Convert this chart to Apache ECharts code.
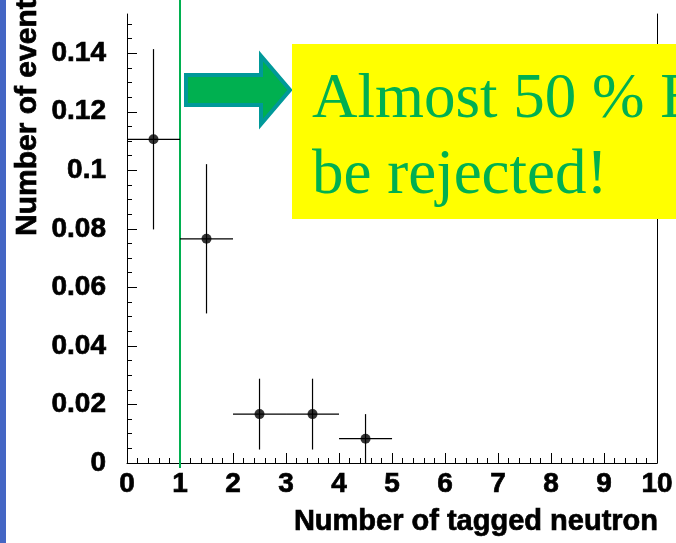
<!DOCTYPE html>
<html>
<head>
<meta charset="utf-8">
<script src="https://cdn.jsdelivr.net/npm/echarts@6/dist/echarts.min.js"></script>
<style>
  html, body { margin: 0; padding: 0; background: #ffffff; }
  #chart { width: 676px; height: 543px; }
</style>
</head>
<body>
<div id="chart"></div>
<script>
// Tagged-neutron multiplicity: bin centres, half bin widths, fractions and errors
const binCenters = [0.5, 1.5, 2.5, 3.5, 4.5];
const binHalfWidths = [0.5, 0.5, 0.5, 0.5, 0.5];
const eventFractions = [0.1106, 0.0766, 0.0167, 0.0167, 0.0083];
const eventErrors = [0.0308, 0.0255, 0.0121, 0.0121, 0.0084];

// Axis ticks
const xTickValues = [0, 1, 2, 3, 4, 5, 6, 7, 8, 9, 10];
const yTickValues = [0, 0.02, 0.04, 0.06, 0.08, 0.1, 0.12, 0.14];
const yMax = 0.1534;

// Selection cut on the number of tagged neutrons
const cutValue = [1];

const labelFont = 'Liberation Sans, Arial, Helvetica, sans-serif';
const noteFont = '"Liberation Serif", "Times New Roman", serif';
const noteGreen = '#00B050';

const pointData = binCenters.map((x, i) => [x, eventFractions[i]]);
const errorData = binCenters.map((x, i) => [x, eventFractions[i], binHalfWidths[i], eventErrors[i]]);

// heavier bold glyphs for the axis text
const boldText = { color: '#000', fontFamily: labelFont, fontWeight: 'bold', fontSize: 28,
                   textBorderColor: '#000', textBorderWidth: 0.7 };

const chart = echarts.init(document.getElementById('chart'), null, { renderer: 'canvas' });

chart.setOption({
  animation: false,
  backgroundColor: '#ffffff',
  grid: { left: 127, right: 16, top: 14, bottom: 80, containLabel: false },
  xAxis: {
    type: 'value',
    min: 0,
    max: 10,
    interval: 1,
    axisLine: { show: true, onZero: false, lineStyle: { color: '#000', width: 1 } },
    axisTick: { show: true, inside: true, length: 10, lineStyle: { color: '#000', width: 1 } },
    minorTick: { show: true, splitNumber: 5, length: 5, lineStyle: { color: '#000', width: 1 } },
    splitLine: { show: false },
    axisLabel: Object.assign({
      show: true,
      margin: 7,
      customValues: xTickValues
    }, boldText)
  },
  yAxis: [
    {
      type: 'value',
      min: 0,
      max: yMax,
      interval: 0.02,
      axisLine: { show: true, onZero: false, lineStyle: { color: '#000', width: 1 } },
      axisTick: { show: true, inside: true, length: 10, customValues: yTickValues, lineStyle: { color: '#000', width: 1 } },
      minorTick: { show: true, splitNumber: 4, length: 5, lineStyle: { color: '#000', width: 1 } },
      splitLine: { show: false },
      axisLabel: Object.assign({
        show: true,
        margin: 21,
        padding: [10, 0, 0, 0],
        customValues: yTickValues,
        formatter: v => String(+v.toFixed(3))
      }, boldText)
    },
    {
      type: 'value',
      position: 'right',
      min: 0,
      max: yMax,
      axisLine: { show: true, onZero: false, lineStyle: { color: '#000', width: 1 } },
      axisTick: { show: false },
      axisLabel: { show: false },
      splitLine: { show: false }
    }
  ],
  series: [
    {
      // vertical line marking the cut at one tagged neutron
      type: 'custom',
      name: 'cut',
      data: cutValue.map(v => [v]),
      clip: false,
      z: 3,
      renderItem: (params, api) => {
        const base = api.coord([api.value(0), 0]);
        return {
          type: 'line',
          shape: { x1: base[0], y1: 0, x2: base[0], y2: base[1] + 5 },
          style: { stroke: noteGreen, lineWidth: 2 }
        };
      }
    },
    {
      // bin-width and statistical error bars
      type: 'custom',
      name: 'errors',
      data: errorData,
      clip: false,
      z: 4,
      renderItem: (params, api) => {
        const x = api.value(0), y = api.value(1), ex = api.value(2), ey = api.value(3);
        const left = api.coord([x - ex, y]);
        const right = api.coord([x + ex, y]);
        const top = api.coord([x, y + ey]);
        const bottom = api.coord([x, Math.max(y - ey, 0)]);
        return {
          type: 'group',
          children: [
            { type: 'line', shape: { x1: left[0], y1: left[1], x2: right[0], y2: right[1] },
              style: { stroke: '#000', lineWidth: 1.2 } },
            { type: 'line', shape: { x1: top[0], y1: top[1], x2: bottom[0], y2: bottom[1] },
              style: { stroke: '#000', lineWidth: 1.2 } }
          ]
        };
      }
    },
    {
      type: 'scatter',
      name: 'events',
      data: pointData,
      symbol: 'circle',
      symbolSize: 10,
      itemStyle: { color: '#000' },
      z: 5
    }
  ],
  graphic: [
    {
      type: 'rect',
      shape: { x: 0, y: 0, width: 6, height: 543 },
      style: { fill: '#4466C4' },
      z: 10
    },
    {
      type: 'text',
      x: 28,
      y: 236,
      rotation: Math.PI / 2,
      style: {
        text: 'Number of events',
        fill: '#000',
        font: 'bold 30px ' + labelFont,
        stroke: '#000',
        lineWidth: 0.7,
        align: 'left',
        verticalAlign: 'middle'
      },
      z: 10
    },
    {
      type: 'text',
      x: 658,
      y: 522,
      style: {
        text: 'Number of tagged neutron',
        fill: '#000',
        font: 'bold 29px ' + labelFont,
        stroke: '#000',
        lineWidth: 0.7,
        align: 'right',
        verticalAlign: 'middle'
      },
      z: 10
    },
    {
      type: 'polygon',
      shape: {
        points: [[186, 75], [261, 75], [261, 56], [290, 90], [261, 124], [261, 105], [186, 105]]
      },
      style: { fill: noteGreen, stroke: '#009999', lineWidth: 4, lineJoin: 'miter' },
      z: 10
    },
    {
      type: 'rect',
      shape: { x: 292, y: 44, width: 400, height: 175 },
      style: { fill: '#FFFF00' },
      z: 11
    },
    {
      type: 'text',
      x: 312,
      y: 100,
      style: {
        text: 'Almost 50 % BG can',
        fill: noteGreen,
        font: '63px ' + noteFont,
        align: 'left',
        verticalAlign: 'middle'
      },
      z: 12
    },
    {
      type: 'text',
      x: 312,
      y: 176,
      style: {
        text: 'be rejected!',
        fill: noteGreen,
        font: '63px ' + noteFont,
        align: 'left',
        verticalAlign: 'middle'
      },
      z: 12
    }
  ]
});
</script>
</body>
</html>
